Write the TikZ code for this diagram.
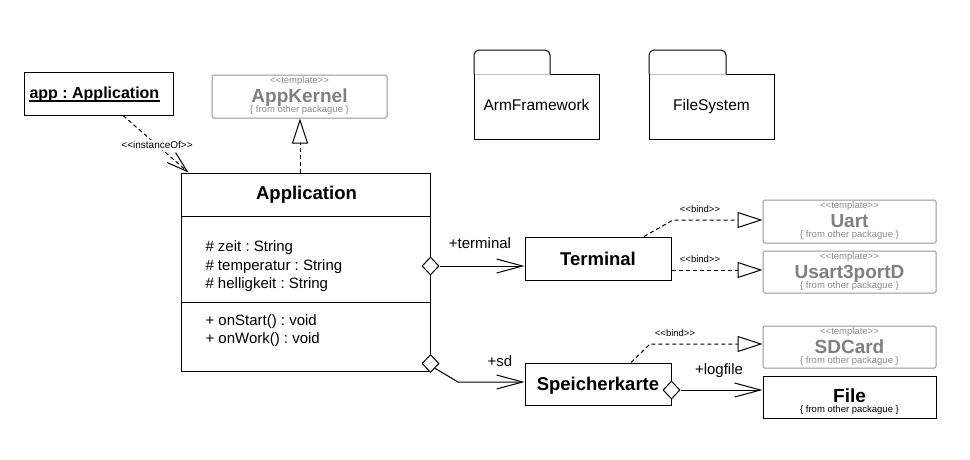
\documentclass[tikz,border=0pt]{standalone}
\usepackage{fontspec}
\setmainfont{Liberation Sans}
\usetikzlibrary{arrows.meta,shapes.geometric,calc}
\definecolor{tgray}{RGB}{128,128,128}
\definecolor{tbord}{RGB}{150,150,150}
\definecolor{tlight}{RGB}{140,140,140}
\definecolor{sepgray}{RGB}{190,190,190}
\newcommand\pxs[1]{\fontsize{#1}{#1}\selectfont}
\newcommand\stL{<\kern0pt<}
\newcommand\stR{>\kern0pt>}
\frenchspacing
\begin{document}
\begin{tikzpicture}[x=1pt,y=-1pt,line width=1pt,
  box/.style={draw,line width=1pt,inner sep=0pt},
  tbox/.style={draw=tbord,line width=1pt,rounded corners=1.5pt,inner sep=0pt},
  txt/.style={inner sep=0pt},
  clstitle/.style={font=\pxs{18.5}\bfseries,text height=13.2pt,text depth=0pt},
  stereo/.style={txt,font=\pxs{9.5},text=tlight,anchor=base},
  tmpltitle/.style={txt,font=\pxs{19}\bfseries,text=tgray,anchor=base},
  fromsub/.style={txt,font=\pxs{9.5},text=tlight,anchor=base},
  member/.style={txt,font=\pxs{15},anchor=base west},
  role/.style={txt,font=\pxs{15},anchor=base},
  lbl/.style={txt,font=\pxs{9.5},anchor=base},
  dep/.style={dash pattern=on 4pt off 3pt},
  assoc/.style={-{Straight Barb[length=26pt,width=14pt]}},
  real/.style={-{Triangle[open,length=25pt,width=16pt]}},
  agg/.style={diamond,draw,fill=white,aspect=1,minimum width=17pt,minimum height=18pt,inner sep=0pt}]
\fill[white] (0,0) rectangle (970,459);
\useasboundingbox (0,0) rectangle (970,459);

% ---- object app
\node[box,minimum width=149pt,minimum height=43pt] (appobj) at (98.5,93.5) {};
\node[txt,font=\pxs{16}\bfseries,anchor=base west] (appobjtxt) at (29,98) {app : Application};
\draw[line width=1.5pt] ([yshift=-3pt]appobjtxt.base west) -- ([yshift=-3pt]appobjtxt.base east);

% ---- AppKernel template
\node[tbox,minimum width=175pt,minimum height=43pt] (appkernel) at (299.5,96.5) {};
\node[stereo] (akst) at (299.5,83.5) {\stL template\stR};
\node[tmpltitle] (akti) at (299.5,102) {AppKernel};
\node[fromsub] (aksub) at (299.5,112.5) {\{ from other packague \}};

% ---- Application class
\node[box,minimum width=249pt,minimum height=198pt] (appclass) at (305.5,272) {};
\draw (appclass.west |- 0,216) -- (appclass.east |- 0,216);
\draw (appclass.west |- 0,302) -- (appclass.east |- 0,302);
\node[txt,font=\pxs{18.5}\bfseries,anchor=base] (apptitle) at (306.5,199) {Application};
\node[member] (att1) at (205,251) {\# zeit : String};
\node[member] (att2) at (205,270) {\# temperatur : String};
\node[member] (att3) at (205,288.5) {\# helligkeit : String};
\node[member] (op1) at (205,325) {+ onStart() : void};
\node[member] (op2) at (205,343) {+ onWork() : void};

% ---- packages
\draw[rounded corners=5pt] (474,74) -- (474,50) -- (550,50) -- (550,74);
\draw (550,74) -- (599,74) -- (599,139) -- (474,139) -- (474,74);
\draw[sepgray] (475,74) -- (549.5,74);
\node[txt,font=\pxs{15.5},anchor=base] (armfw) at (536.5,110.5) {ArmFramework};
\draw[rounded corners=5pt] (649,74) -- (649,50) -- (726,50) -- (726,74);
\draw (726,74) -- (774,74) -- (774,139) -- (649,139) -- (649,74);
\draw[sepgray] (650,74) -- (725.5,74);
\node[txt,font=\pxs{15.5},anchor=base] (filesys) at (711.5,110.5) {FileSystem};

% ---- Terminal, Speicherkarte
\node[box,clstitle,minimum width=146pt,minimum height=43pt] (terminal) at (598,258.5) {Terminal};
\node[box,clstitle,minimum width=146pt,minimum height=42pt] (speicher) at (598,384) {Speicherkarte};

% ---- right side templates
\node[tbox,minimum width=173pt,minimum height=43pt] (uart) at (849.5,221.5) {};
\node[stereo] (uast) at (849.5,208.5) {\stL template\stR};
\node[tmpltitle] (uati) at (849.5,227) {Uart};
\node[fromsub] (uasub) at (849.5,237.5) {\{ from other packague \}};

\node[tbox,minimum width=173pt,minimum height=42pt] (usart) at (849.5,272) {};
\node[stereo] (usst) at (849.5,259.5) {\stL template\stR};
\node[tmpltitle] (usti) at (849.5,278) {Usart3portD};
\node[fromsub] (ussub) at (849.5,288.5) {\{ from other packague \}};

\node[tbox,minimum width=173pt,minimum height=42pt] (sdcard) at (849.5,347) {};
\node[stereo] (sdst) at (849.5,334.5) {\stL template\stR};
\node[tmpltitle] (sdti) at (849.5,353) {SDCard};
\node[fromsub] (sdsub) at (849.5,363.5) {\{ from other packague \}};

\node[box,minimum width=173pt,minimum height=42pt] (file) at (849.5,397) {};
\node[txt,font=\pxs{19}\bfseries,anchor=base] (fileti) at (849.5,402) {File};
\node[txt,font=\pxs{9.5},anchor=base] (filesub) at (849.5,412.5) {\{ from other packague \}};

% ---- instanceOf
\draw[dep,-{Straight Barb[length=21pt,width=13pt]}] ([xshift=24.5pt]appobj.south) -- ([xshift=8pt]appclass.north west)
  node[pos=0.52,txt,fill=white,font=\pxs{10},inner sep=1pt] (iolbl) {\stL instanceOf\stR};

% ---- realization AppKernel
\coordinate (rk) at ([xshift=-5.5pt]appclass.north);
\draw[dep,real] (rk) -- (rk |- appkernel.south);

% ---- associations
\node[agg] (dterm) at ([yshift=6pt]appclass.east) {};
\draw[assoc] (dterm.east) -- (dterm.east -| terminal.west);
\node[role] (rterm) at (480,248) {+terminal};

\node[agg] (dsd) at ([yshift=8pt]appclass.south east) {};
\coordinate (sdbend) at (458,382);
\draw[assoc] (dsd.south east) -- (sdbend) -- (sdbend -| speicher.west);
\node[role] (rsd) at (500,366) {+sd};

\node[agg] (dfile) at ([yshift=-6pt]speicher.east) {};
\draw[assoc] (dfile.east) -- (dfile.east -| file.west);
\node[role] (rlog) at (719,374) {+logfile};

% ---- bind dependencies
\coordinate (b1s) at ([xshift=46pt]terminal.north);
\coordinate (b1k) at (673,220);
\draw[dep,real] (b1s) -- (b1k) -- (b1k -| uart.west);
\node[lbl] (bl1) at (700,212) {\stL bind\stR};

\coordinate (b2s) at ([yshift=-11.5pt]terminal.east);
\draw[dep,real] (b2s) -- (b2s -| usart.west);
\node[lbl] (bl2) at (700,262) {\stL bind\stR};

\coordinate (b3s) at ([xshift=33pt]speicher.north);
\coordinate (b3k) at (650,344);
\draw[dep,real] (b3s) -- (b3k) -- (b3k -| sdcard.west);
\node[lbl] (bl3) at (675,336) {\stL bind\stR};
\end{tikzpicture}
\end{document}
